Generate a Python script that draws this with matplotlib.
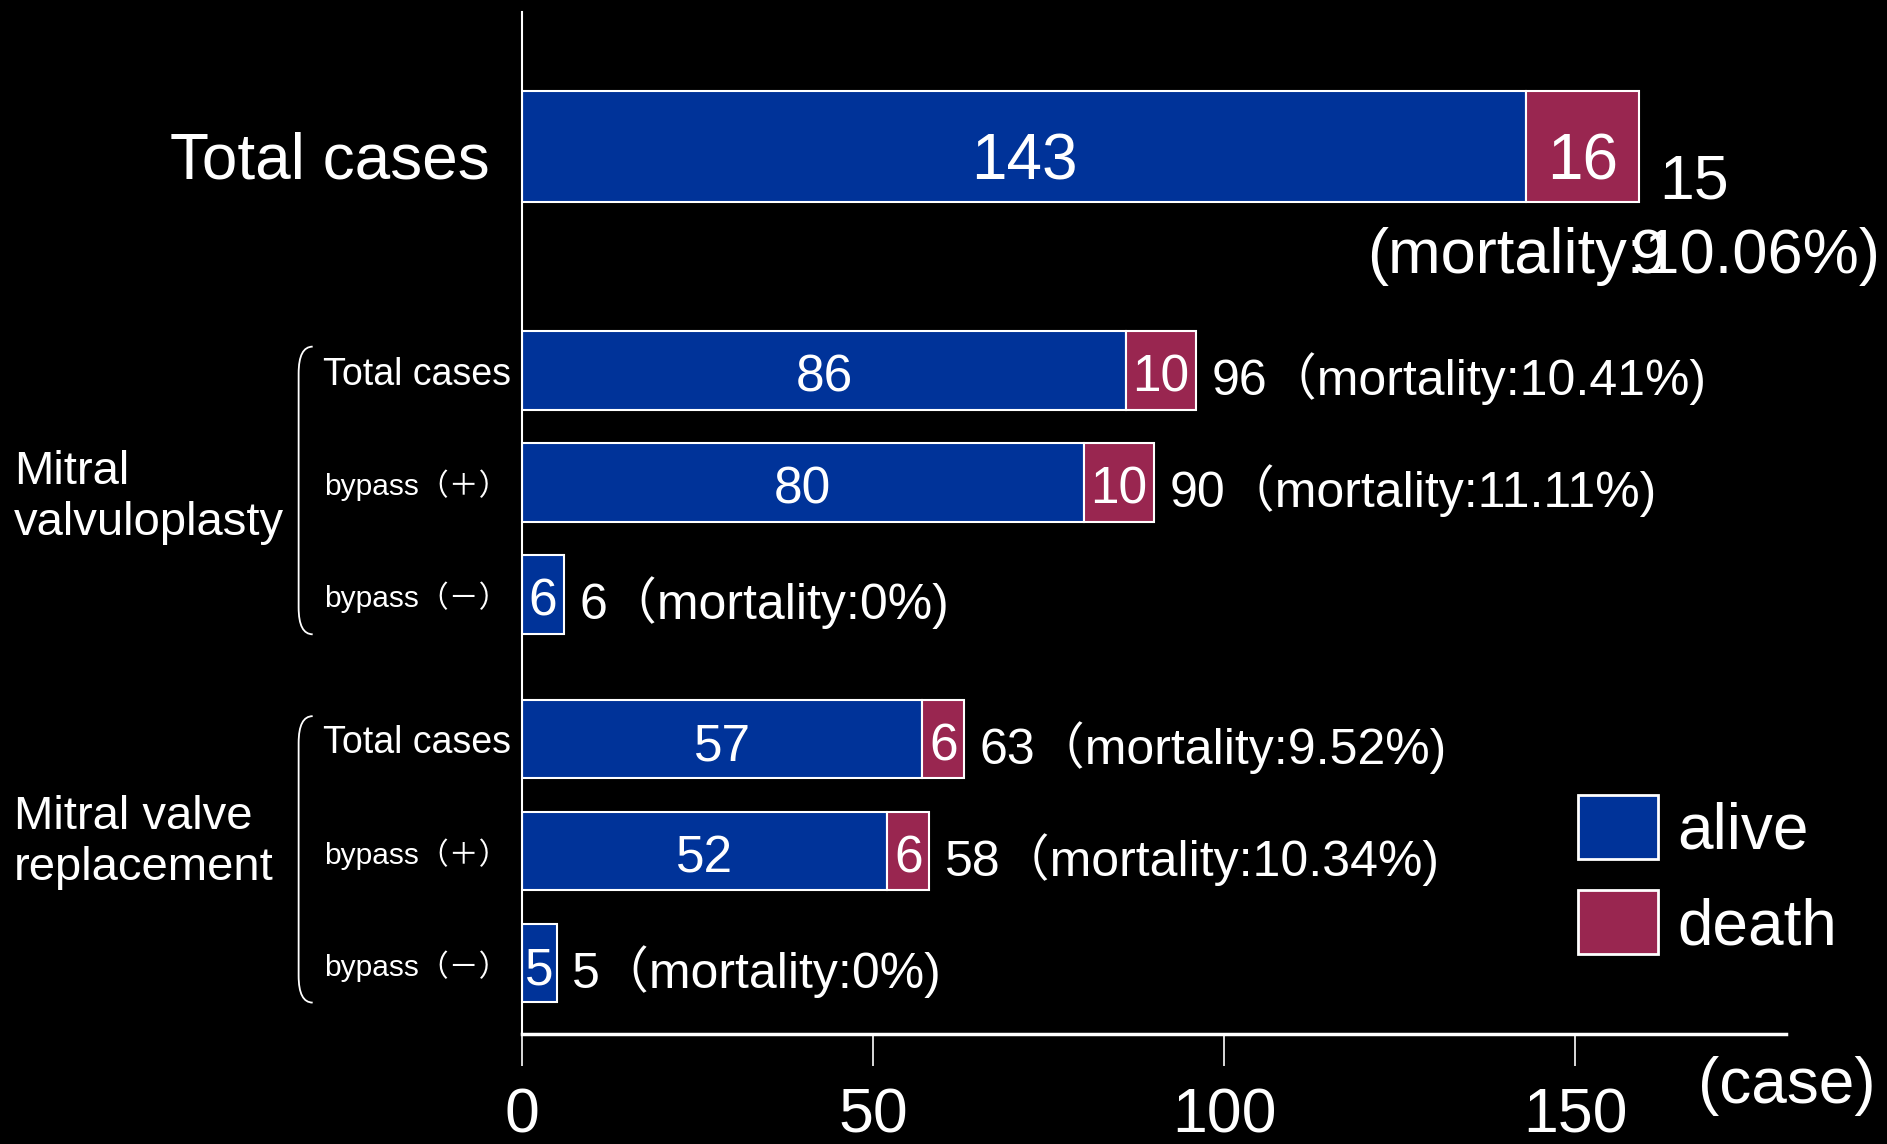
import matplotlib
matplotlib.use("Agg")
import matplotlib.pyplot as plt
from matplotlib.patches import Patch, PathPatch
from matplotlib.path import Path

plt.rcParams['font.family'] = ['Liberation Sans', 'Noto Sans CJK JP']

# data
rows = ["Total cases", "Total cases", "bypass（＋）", "bypass（－）",
        "Total cases", "bypass（＋）", "bypass（－）"]
alive = [143, 86, 80, 6, 57, 52, 5]
death = [16, 10, 10, 0, 6, 6, 0]
notes = ["", "96（mortality:10.41%)", "90（mortality:11.11%)", "6（mortality:0%)",
         "63（mortality:9.52%)", "58（mortality:10.34%)", "5（mortality:0%)"]
groups = ["Mitral\nvalvuloplasty", "Mitral valve\nreplacement"]
xticks = [0, 50, 100, 150]

# layout
ypos = [0, 2, 3, 4, 5.29, 6.29, 7.29]
heights = [0.99, 0.7, 0.7, 0.7, 0.7, 0.7, 0.7]
blue = '#003399'
red = '#992650'

fig = plt.figure(figsize=(18.87, 11.44), dpi=100, facecolor='black')
ax = fig.add_axes([0.2766, 0.0962, 0.6699, 0.8933])
ax.set_facecolor('black')

ax.barh(ypos, alive, height=heights, color=blue, edgecolor='white', linewidth=1.5)
for i in range(len(ypos)):
    if death[i] > 0:
        ax.barh(ypos[i], death[i], left=alive[i], height=heights[i],
                color=red, edgecolor='white', linewidth=1.5)

ax.set_xlim(0, 180)
ax.set_ylim(7.925, -1.204)

# numbers in bars
for i in range(len(ypos)):
    fs = 46 if i == 0 else 37
    dy = 0.08 if i == 0 else 0.02
    ax.text(alive[i] / 2, ypos[i] + dy, str(alive[i]), color='white', fontsize=fs,
            ha='center', va='center_baseline')
    if death[i] > 0:
        ax.text(alive[i] + death[i] / 2, ypos[i] + dy, str(death[i]), color='white',
                fontsize=fs, ha='center', va='center_baseline')
    if notes[i]:
        ax.annotate(notes[i], (alive[i] + death[i], ypos[i] + 0.03), xytext=(11, 0),
                    textcoords='offset points', color='white', fontsize=36,
                    ha='left', va='center_baseline')

# the overlapping total annotation (the "9" of 159 sits on top of the second line)
tot = alive[0] + death[0]
ax.text(tot + 3, 0.26, "15", color='white', fontsize=45, ha='left', va='center_baseline')
ax.text(120.4, 0.925, "(mortality:10.06%)", color='white', fontsize=45.5,
        ha='left', va='center_baseline')
ax.text(157.9, 0.925, "9", color='white', fontsize=45.5, ha='left', va='center_baseline')

# row labels
ax.text(-4.6, ypos[0] + 0.07, rows[0], color='white', fontsize=46, ha='right',
        va='center_baseline')
for i in range(1, len(ypos)):
    fs = 27 if rows[i] == "Total cases" else 21.5
    ax.text(-15.0, ypos[i], rows[i], color='white', fontsize=fs,
            ha='center', va='center_baseline', clip_on=False)

ax.text(-72.3, 3.13, groups[0], color='white', fontsize=34, ha='left', va='center',
        linespacing=1.2, clip_on=False)
ax.text(-72.3, 6.215, groups[1], color='white', fontsize=34, ha='left', va='center',
        linespacing=1.2, clip_on=False)

# brackets
for top, bot in [(1.785, 4.355), (5.086, 7.645)]:
    verts = [(-29.8, top), (-31.8, top), (-31.8, top + 0.24),
             (-31.8, bot - 0.24), (-31.8, bot), (-29.8, bot)]
    codes = [Path.MOVETO, Path.CURVE3, Path.CURVE3, Path.LINETO, Path.CURVE3, Path.CURVE3]
    ax.add_patch(PathPatch(Path(verts, codes), facecolor='none', edgecolor='white',
                           linewidth=1.3, clip_on=False))

# axes styling
for s in ['top', 'right']:
    ax.spines[s].set_visible(False)
ax.spines['left'].set_color('white')
ax.spines['left'].set_linewidth(1.5)
ax.spines['bottom'].set_color('white')
ax.spines['bottom'].set_linewidth(2.5)
ax.set_yticks([])
ax.set_xticks(xticks)
ax.set_xticklabels([str(t) for t in xticks])
ax.tick_params(axis='x', colors='white', labelsize=45, length=23, width=1.2,
               direction='out', pad=15)

fig.text(0.900, 0.0507, "(case)", color='white', fontsize=46, ha='left', va='center')

handles = [Patch(facecolor=blue, edgecolor='white', linewidth=2, label='alive'),
           Patch(facecolor=red, edgecolor='white', linewidth=2, label='death')]
fig.legend(handles=handles, loc='upper left', bbox_to_anchor=(0.836, 0.305),
           frameon=False, fontsize=46, labelcolor='white', handlelength=1.26,
           handleheight=1.165, handletextpad=0.3, labelspacing=0.45,
           borderpad=0, borderaxespad=0)

fig.savefig('out.png', dpi=100, facecolor='black')
